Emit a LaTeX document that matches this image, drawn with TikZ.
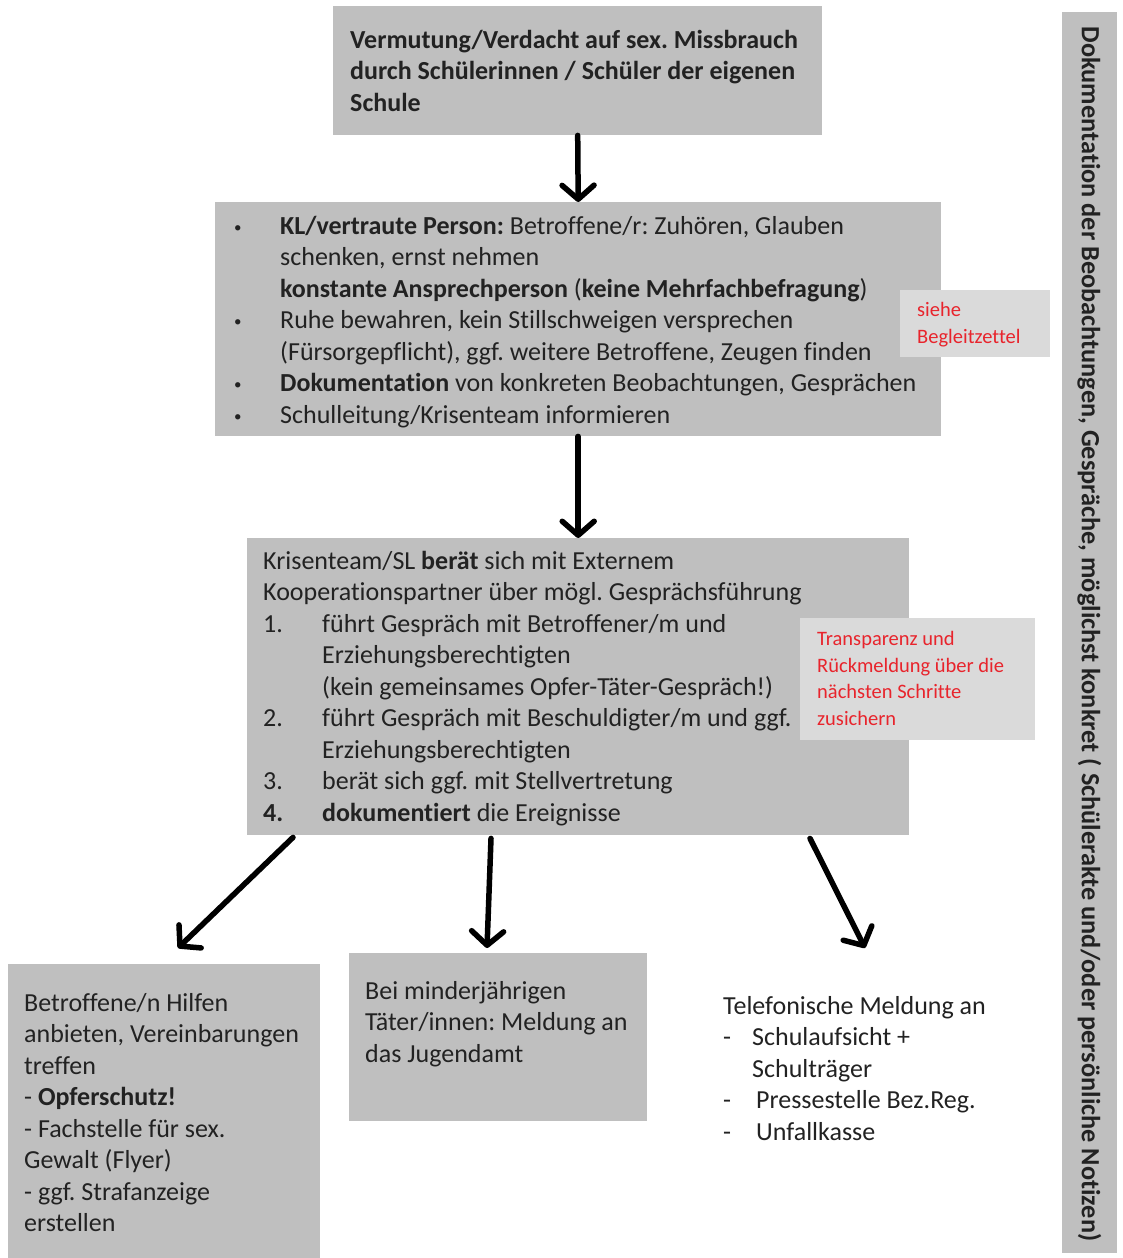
\documentclass[tikz,border=0pt]{standalone}
\usepackage{fontspec}
\setmainfont[Ligatures=NoCommon]{Carlito}
\usetikzlibrary{arrows.meta,calc}
\frenchspacing
\definecolor{boxgray}{HTML}{BFBFBF}
\definecolor{notegray}{HTML}{DADADA}
\definecolor{txtcol}{HTML}{222222}
\definecolor{notered}{HTML}{E8242C}
\newcommand{\mybul}{\makebox[45pt][l]{\hspace*{-1pt}{\fontsize{15}{15}\selectfont\raisebox{2pt}{•}}}}
\begin{document}
\begin{tikzpicture}[x=1pt,y=-1pt,
  box/.style={fill=boxgray, draw=none, anchor=north west, inner sep=0pt},
  note/.style={fill=notegray, draw=none, anchor=north west, inner sep=0pt},
  txt/.style={anchor=north west, inner sep=0pt, align=left, text=txtcol,
    font=\fontsize{26}{31.5}\selectfont},
  redtxt/.style={anchor=north west, inner sep=0pt, align=left, text=notered,
    font=\fontsize{20.5}{26.5}\selectfont},
  flow/.style={line width=5.5pt, line cap=round, -{Straight Barb[length=14pt,width=32pt,line width=5.5pt,round]}}
]
\useasboundingbox (0,0) rectangle (1123,1258);

% boxes
\node[box, minimum width=489pt, minimum height=129pt] (top) at (333,6) {};
\node[box, minimum width=726pt, minimum height=234pt] (b2) at (215,202) {};
\node[note, minimum width=150pt, minimum height=67pt] (n1) at (900,290) {};
\node[box, minimum width=662pt, minimum height=297pt] (b3) at (247,538) {};
\node[note, minimum width=235pt, minimum height=122pt] (n2) at (800,618) {};
\node[box, minimum width=312pt, minimum height=300pt] (bl) at (8,964) {};
\node[box, minimum width=298pt, minimum height=168pt] (bm) at (349,953) {};
\node[box, minimum width=55pt, minimum height=1241pt] (side) at (1062,12) {};

% texts
\node[txt, font=\fontsize{26}{31.5}\selectfont\bfseries] (ttop) at (350,26) {\strut Vermutung/Verdacht auf sex. Missbrauch\\durch Schülerinnen / Schüler der eigenen\\Schule};

\node[txt] (tb2) at (235,212) {\strut\mybul\textbf{KL/vertraute Person:} Betroffene/r: Zuhören, Glauben\\
\hspace*{45pt}schenken, ernst nehmen\\
\hspace*{45pt}\textbf{konstante Ansprechperson} (\textbf{keine Mehrfachbefragung})\\
\mybul Ruhe bewahren, kein Stillschweigen versprechen\\
\hspace*{45pt}(Fürsorgepflicht), ggf. weitere Betroffene, Zeugen finden\\
\mybul\textbf{Dokumentation} von konkreten Beobachtungen, Gesprächen\\
\mybul Schulleitung/Krisenteam informieren};

\node[redtxt] (tn1) at (917,298) {\strut siehe\\Begleitzettel};

\node[txt] (tb3) at (263,547) {\strut Krisenteam/SL \textbf{berät} sich mit Externem\\
Kooperationspartner über mögl. Gesprächsführung\\
\makebox[59pt][l]{1.}führt Gespräch mit Betroffener/m und\\
\hspace*{59pt}Erziehungsberechtigten\\
\hspace*{59pt}(kein gemeinsames Opfer-Täter-Gespräch!)\\
\makebox[59pt][l]{2.}führt Gespräch mit Beschuldigter/m und ggf.\\
\hspace*{59pt}Erziehungsberechtigten\\
\makebox[59pt][l]{3.}berät sich ggf. mit Stellvertretung\\
\makebox[59pt][l]{\textbf{4.}}\textbf{dokumentiert} die Ereignisse};

\node[redtxt] (tn2) at (817,627) {\strut Transparenz und\\Rückmeldung über die\\nächsten Schritte\\zusichern};

\node[txt] (tbl) at (24,989) {\strut Betroffene/n Hilfen\\anbieten, Vereinbarungen\\treffen\\- \textbf{Opferschutz!}\\- Fachstelle für sex.\\Gewalt (Flyer)\\- ggf. Strafanzeige\\erstellen};

\node[txt] (tbm) at (365,977) {\strut Bei minderjährigen\\Täter/innen: Meldung an\\das Jugendamt};

\node[txt] (tbr) at (723,992) {\strut Telefonische Meldung an\\
\makebox[29pt][l]{-}Schulaufsicht +\\
\hspace*{29pt}Schulträger\\
\makebox[33pt][l]{-}Pressestelle Bez.Reg.\\
\makebox[33pt][l]{-}Unfallkasse};

\node[rotate=-90, inner sep=0pt, text=txtcol, font=\fontsize{26.3}{30}\selectfont\bfseries] (tside) at (1089.5,634) {Dokumentation der Beobachtungen, Gespräche, möglichst konkret ( Schülerakte und/oder persönliche Notizen)};

% arrows
\coordinate (eL) at (178,948);
\coordinate (eM) at (487,948);
\coordinate (eR) at (865,948);
\draw[flow] (top.south) -- (b2.north);
\draw[flow] (b2.south) -- (b3.north);
\draw[flow] ([xshift=46pt,yshift=-2pt]b3.south west) -- (eL);
\draw[flow] ([xshift=244pt,yshift=-3pt]b3.south west) -- (eM);
\draw[flow] ([xshift=563pt,yshift=-3pt]b3.south west) -- (eR);
\end{tikzpicture}
\end{document}
